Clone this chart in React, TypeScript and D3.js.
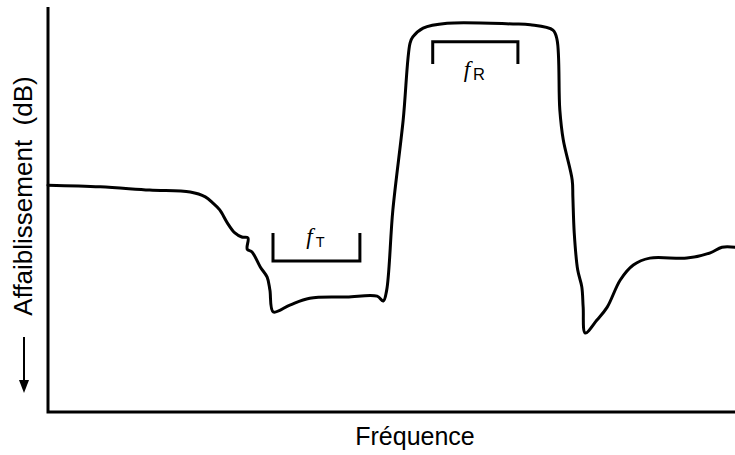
import React from "react";
import * as d3 from "d3";

// Frequency (arbitrary units, 0–100) and attenuation (arbitrary units, 0–100)
const freq = [
  0, 7.6, 14.8, 20.7, 22.9, 24.0, 25.0, 26.1, 27.2, 28.2, 29.1, 29.0, 29.7, 30.9, 31.9, 32.3, 32.8,
  35.2, 38.1, 43.5, 47.9, 48.8, 49.3, 50.2, 51.7, 52.7, 53.1, 54.6, 58.1, 67.7, 70.2, 73.5, 74.1,
  74.5, 75.0, 76.3, 76.4, 76.6, 77.1, 77.7, 77.9, 78.2, 79.9, 81.4, 83.3, 85.2, 87.6, 93.0, 96.4,
  98.1, 100,
];
const attenuation = [
  56.0, 55.6, 54.8, 54.3, 53.1, 51.6, 49.9, 46.7, 44.2, 43.2, 43.0, 40.2, 39.5, 35.8, 33.3, 30.1, 24.7,
  26.4, 28.1, 28.4, 28.6, 27.4, 30.1, 49.9, 72.1, 91.1, 92.6, 94.8, 96.0, 95.8, 95.6, 94.3, 91.9,
  74.6, 67.2, 57.3, 53.1, 44.2, 35.1, 30.9, 25.9, 19.5, 22.7, 25.9, 32.6, 36.3, 38.0, 38.0, 39.3,
  40.7, 40.7,
];

// Band brackets: [start freq, end freq, level of open ends, level of closed side]
const bandNames = ["T", "R"];
const bandStart = [32.75, 56.0];
const bandEnd = [45.4, 68.4];
const bandOpenLevel = [44.2, 85.9];
const bandBaseLevel = [37.3, 91.4];

const xLabel = "Fréquence";
const yLabel = "Affaiblissement\u00a0\u00a0(dB)";

const W = 735;
const H = 455;
const sans = "'Liberation Sans', Arial, Helvetica, sans-serif";
const serif = "'Liberation Serif', 'Times New Roman', serif";

export default function App() {
  const x = d3.scaleLinear().domain([0, 100]).range([48, 735]);
  const y = d3.scaleLinear().domain([0, 100]).range([412, 7]);

  const pts: [number, number][] = freq.map((f, i) => [f, attenuation[i]]);
  const line = d3
    .line<[number, number]>()
    .x((d) => x(d[0]))
    .y((d) => y(d[1]))
    .curve(d3.curveCatmullRom.alpha(0.5));

  const [x0, x1] = x.range();
  const [y0, y1] = y.range();

  return (
    <svg
      width={W}
      height={H}
      style={{ position: "fixed", left: 0, top: 0, background: "#fff" }}
    >
      <rect width={W} height={H} fill="#fff" />
      <path
        d={`M${x0},${y1}V${y0}H${x1}`}
        fill="none"
        stroke="#000"
        strokeWidth={3}
      />
      <path
        d={line(pts) || ""}
        fill="none"
        stroke="#000"
        strokeWidth={3}
        strokeLinejoin="round"
        strokeLinecap="round"
      />
      {bandNames.map((n, i) => {
        const xa = x(bandStart[i]);
        const xb = x(bandEnd[i]);
        const yo = y(bandOpenLevel[i]);
        const yb = y(bandBaseLevel[i]);
        const cx = (xa + xb) / 2;
        const below = yb > yo;
        const ly = below ? yb - 14 : yb + 38;
        return (
          <g key={n}>
            <path
              d={`M${xa},${yo}V${yb}H${xb}V${yo}`}
              fill="none"
              stroke="#000"
              strokeWidth={3}
            />
            <text x={cx - 1} y={ly} textAnchor="middle" fill="#000" fontSize={16}>
              <tspan fontFamily={serif} fontStyle="italic" fontSize={23} dy={-3}>
                f
              </tspan>
              <tspan fontFamily={sans} fontSize={i === 0 ? 14.5 : 16.5} dx={3} dy={3}>
                {n}
              </tspan>
            </text>
          </g>
        );
      })}
      <text
        x={415}
        y={445}
        textAnchor="middle"
        fontFamily={sans}
        fontSize={25}
        fill="#000"
      >
        {xLabel}
      </text>
      <text
        transform="translate(32,196) rotate(-90)"
        textAnchor="middle"
        fontFamily={sans}
        fontSize={26}
        fill="#000"
      >
        {yLabel}
      </text>
      <line x1={24} y1={337} x2={24} y2={382} stroke="#000" strokeWidth={2} />
      <path d="M19,380L29,380L24,393Z" fill="#000" />
    </svg>
  );
}
